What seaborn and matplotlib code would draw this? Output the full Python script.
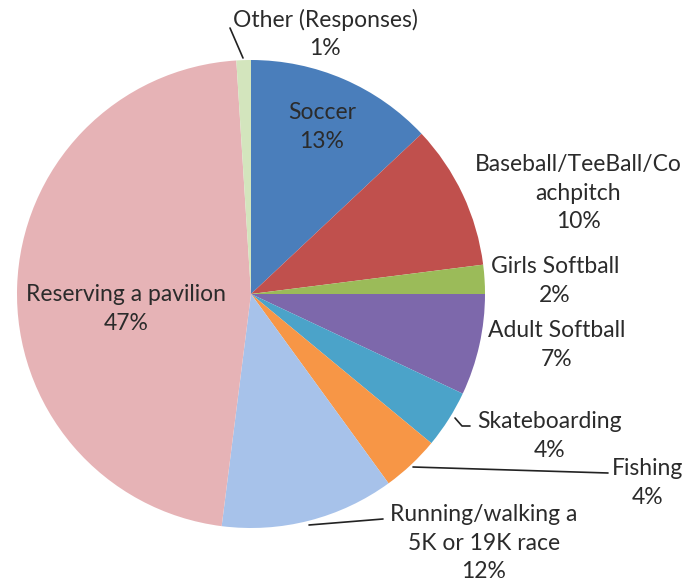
import seaborn as sns
import matplotlib.pyplot as plt

# dados do gráfico (sentido horário a partir do topo)
categorias = ["Soccer", "Baseball/TeeBall/Co\nachpitch", "Girls Softball", "Adult Softball",
              "Skateboarding", "Fishing", "Running/walking a\n5K or 19K race",
              "Reserving a pavilion", "Other (Responses)"]
percentuais = [13, 10, 2, 7, 4, 4, 12, 47, 1]
cores = ["#4a7ebb", "#c0504d", "#9bbb59", "#7d68ab", "#4ba3c9", "#f79646",
         "#a7c2ea", "#e6b3b6", "#d3e5bd"]

# posição dos rótulos em pixels (centro do texto) e linhas de chamada
pos_rotulos = [(322, 127), (578, 193), (555, 281), (557, 345), (550, 436),
               (648, 483), (484, 543), (126, 309), (325, 34)]
linhas = {4: [(455, 418), (462, 426), (470, 426)],
          5: [(413, 467), (608, 473)],
          6: [(309, 525), (383, 519)],
          8: [(243, 58), (230, 28)]}

sns.set_style("white")
plt.rcParams["font.family"] = ["Lato", "DejaVu Sans"]

W, H = 687, 582
cx, cy, r = 251, 294, 234
fig = plt.figure(figsize=(W / 100, H / 100), dpi=100)
ax = fig.add_axes([(cx - r) / W, (H - cy - r) / H, 2 * r / W, 2 * r / H])

ax.pie(percentuais, colors=cores, startangle=90, counterclock=False,
       wedgeprops=dict(linewidth=0), radius=1)
ax.set_xlim(-1, 1)
ax.set_ylim(-1, 1)
ax.set_aspect("equal")
ax.axis("off")


def px2d(p):
    return ((p[0] - cx) / r, (cy - p[1]) / r)


for i, (nome, v) in enumerate(zip(categorias, percentuais)):
    x, y = px2d(pos_rotulos[i])
    ax.text(x, y, f"{nome}\n{v}%", ha="center", va="center", fontsize=16.5,
            color="#2b2b2b", linespacing=1.42, clip_on=False)

for i, pts in linhas.items():
    xs, ys = zip(*[px2d(p) for p in pts])
    ax.plot(xs, ys, color="#222222", lw=1.2, clip_on=False)

plt.savefig("out.png", dpi=100)
